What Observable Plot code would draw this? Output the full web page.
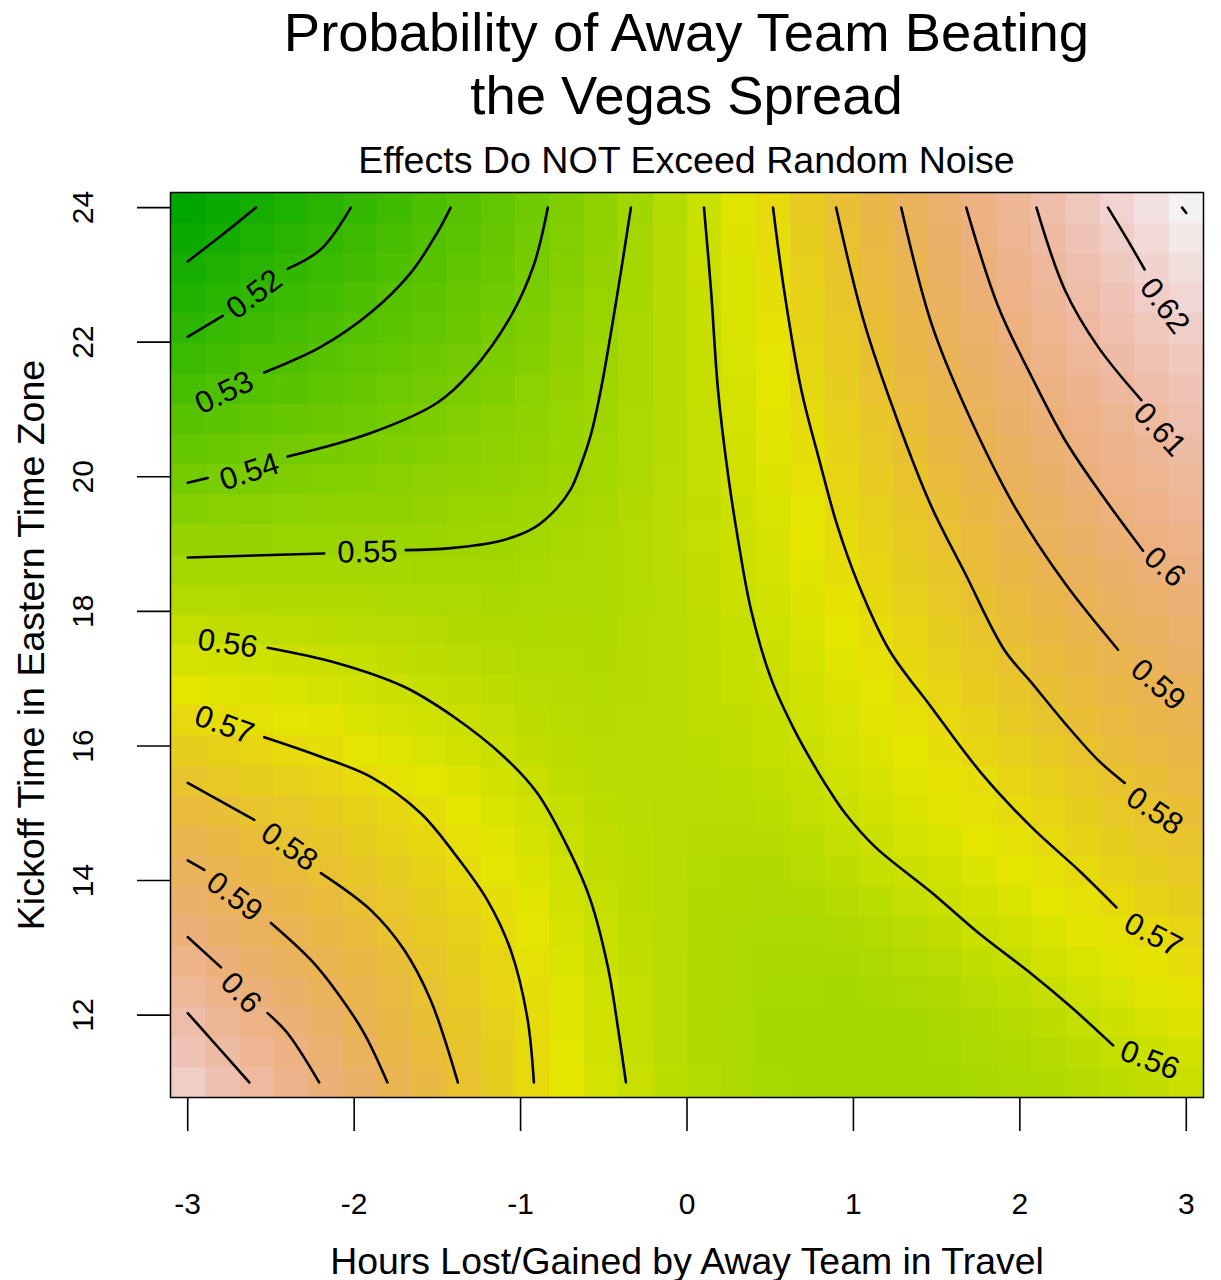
<!DOCTYPE html>
<html>
<head>
<meta charset="utf-8">
<script src="https://cdn.jsdelivr.net/npm/d3@7"></script>
<script src="https://cdn.jsdelivr.net/npm/@observablehq/plot@0.6"></script>
<style>
  body { margin: 0; background: #fff; font-family: "Liberation Sans", Arial, sans-serif; }
  #wrap { position: relative; width: 1221px; height: 1280px; overflow: hidden; }
  .t { position: absolute; left: 170px; width: 1033px; text-align: center; color: #000; white-space: nowrap; line-height: 1; }
  #wrap svg { position: absolute; left: 0; top: 0; }
</style>
</head>
<body>
<div id="wrap">
  <div class="t" style="top:6px;font-size:54.4px">Probability of Away Team Beating</div>
  <div class="t" style="top:69px;font-size:54.4px">the Vegas Spread</div>
  <div class="t" style="top:142.2px;font-size:37.6px">Effects Do NOT Exceed Random Noise</div>
</div>
<script>
// ---------- grid of read values (x = hours lost/gained, y = kickoff hour) ----------
const xs = [-3, -2.5, -2, -1.5, -1, -0.5, 0, 0.5, 1, 1.5, 2, 2.5, 3];
const ys = [24, 23, 22, 21, 20, 19, 18, 17, 16, 15, 14, 13, 12, 11];

const p24 = [0.5030, 0.5116, 0.5203, 0.5287, 0.5372, 0.5467, 0.5577, 0.5696, 0.5827, 0.5954, 0.6076, 0.6193, 0.6300];
const p23 = [0.5118, 0.5192, 0.5258, 0.5323, 0.5391, 0.5481, 0.5574, 0.5684, 0.5801, 0.5926, 0.6044, 0.6149, 0.6241];
const p22 = [0.5207, 0.5262, 0.5316, 0.5365, 0.5421, 0.5496, 0.5574, 0.5671, 0.5778, 0.5897, 0.6006, 0.6108, 0.6184];
const p21 = [0.5300, 0.5335, 0.5371, 0.5409, 0.5457, 0.5507, 0.5573, 0.5659, 0.5755, 0.5859, 0.5965, 0.6054, 0.6132];
const p20 = [0.5392, 0.5416, 0.5439, 0.5462, 0.5485, 0.5518, 0.5573, 0.5645, 0.5732, 0.5821, 0.5922, 0.6011, 0.6080];
const p19 = [0.5482, 0.5487, 0.5493, 0.5498, 0.5512, 0.5540, 0.5577, 0.5629, 0.5705, 0.5787, 0.5878, 0.5965, 0.6030];
const p18 = [0.5567, 0.5560, 0.5553, 0.5542, 0.5533, 0.5539, 0.5573, 0.5615, 0.5681, 0.5755, 0.5834, 0.5912, 0.5977];
const p17 = [0.5648, 0.5627, 0.5607, 0.5583, 0.5560, 0.5551, 0.5572, 0.5600, 0.5658, 0.5720, 0.5793, 0.5858, 0.5919];
const p16 = [0.5739, 0.5707, 0.5668, 0.5626, 0.5588, 0.5563, 0.5570, 0.5591, 0.5632, 0.5684, 0.5747, 0.5812, 0.5865];
const p15 = [0.5839, 0.5784, 0.5737, 0.5687, 0.5622, 0.5575, 0.5560, 0.5570, 0.5607, 0.5653, 0.5700, 0.5757, 0.5813];
const p14 = [0.5926, 0.5853, 0.5784, 0.5726, 0.5657, 0.5585, 0.5555, 0.5545, 0.5575, 0.5613, 0.5661, 0.5709, 0.5761];
const p13 = [0.6014, 0.5927, 0.5846, 0.5767, 0.5688, 0.5600, 0.5555, 0.5530, 0.5535, 0.5570, 0.5609, 0.5659, 0.5708];
const p12 = [0.6103, 0.6002, 0.5898, 0.5798, 0.5707, 0.5614, 0.5555, 0.5520, 0.5510, 0.5530, 0.5565, 0.5608, 0.5654];
const p11 = [0.6187, 0.6068, 0.5949, 0.5829, 0.5718, 0.5624, 0.5560, 0.5525, 0.5510, 0.5515, 0.5535, 0.5565, 0.5598];

// ---------- contour lines (segments split at labels) ----------
const c051 = [[[-3, 23.2], [-2.80, 23.58], [-2.59, 24]]];
const c052 = [[[-3, 22.08], [-2.79, 22.39]], [[-2.40, 23.09], [-2.20, 23.38], [-2.02, 24]]];
const c053 = [[[-2.54, 21.55], [-2.20, 21.93], [-1.90, 22.44], [-1.66, 23.03], [-1.50, 23.63], [-1.42, 24]]];
const c054 = [[[-3, 19.91], [-2.88, 19.98]], [[-2.40, 20.30], [-1.90, 20.65], [-1.50, 21.10], [-1.30, 21.55], [-1.06, 22.38], [-0.92, 23.15], [-0.836, 24]]];
const c055 = [[[-3, 18.80], [-2.18, 18.86]], [[-1.69, 18.91], [-1.42, 18.94], [-1.118, 19.05], [-0.92, 19.24], [-0.787, 19.52], [-0.697, 19.82], [-0.637, 20.18], [-0.577, 20.63], [-0.517, 21.3], [-0.415, 22.77], [-0.337, 24]]];
const c056a = [[[-2.52, 17.46], [-2.10, 17.23], [-1.70, 16.88], [-1.40, 16.43], [-1.10, 15.84], [-0.90, 15.30], [-0.70, 14.41], [-0.58, 13.71], [-0.475, 12.71], [-0.41, 11.73], [-0.367, 11.0]]];
const c057a = [[[-2.54, 16.13], [-2.20, 15.84], [-1.90, 15.54], [-1.60, 15.0], [-1.40, 14.41], [-1.20, 13.71], [-1.06, 12.97], [-0.96, 11.97], [-0.92, 11.0]]];
const c058a = [[[-3, 15.45], [-2.60, 14.90]], [[-2.20, 14.11], [-1.90, 13.56], [-1.70, 12.97], [-1.54, 12.22], [-1.377, 11.0]]];
const c059a = [[[-3, 14.30], [-2.90, 14.16]], [[-2.50, 13.37], [-2.26, 12.82], [-2.10, 12.33], [-1.94, 11.73], [-1.80, 11.0]]];
const c060a = [[[-3, 13.16], [-2.80, 12.71]], [[-2.52, 12.03], [-2.40, 11.73], [-2.21, 11.0]]];
const c061a = [[[-3, 12.03], [-2.82, 11.53], [-2.63, 11.0]]];
const c056b = [[[0.102, 24], [0.144, 22.78], [0.186, 21.3], [0.245, 20.06], [0.307, 19.06], [0.385, 18.02], [0.505, 17.0], [0.645, 16.24], [0.79, 15.6], [0.866, 15.3], [0.95, 15.0], [1.13, 14.5], [1.466, 13.83], [1.767, 13.19], [2.067, 12.62], [2.308, 12.12], [2.56, 11.55]]];
const c057b = [[[0.517, 24], [0.583, 22.78], [0.686, 21.3], [0.80, 20.2], [0.90, 19.3], [1.03, 18.4], [1.214, 17.43], [1.467, 16.58], [1.767, 15.6], [2.067, 14.8], [2.368, 14.12], [2.58, 13.60]]];
const c058b = [[[0.896, 24], [1.065, 22.29], [1.27, 20.8], [1.47, 19.55], [1.67, 18.57], [1.906, 17.43], [2.07, 16.94], [2.27, 16.34], [2.47, 15.79], [2.63, 15.45]]];
const c059b = [[[1.287, 24], [1.467, 22.29], [1.67, 21.04], [1.97, 19.55], [2.27, 18.42], [2.59, 17.43]]];
const c060b = [[[1.678, 24], [1.87, 22.53], [2.07, 21.49], [2.27, 20.55], [2.47, 19.81], [2.74, 18.90]]];
const c061b = [[[2.10, 24], [2.27, 22.78], [2.47, 21.93], [2.73, 21.14]]];
const c062b = [[[2.53, 24], [2.64, 23.55], [2.75, 23.08]]];
const c063b = [[[2.975, 24], [3.0, 23.92]]];

const contourLabels = [
  {text: "0.52", x: -2.60, y: 22.71, angle: -37},
  {text: "0.53", x: -2.78, y: 21.25, angle: -26},
  {text: "0.54", x: -2.63, y: 20.07, angle: -18},
  {text: "0.55", x: -1.92, y: 18.88, angle: -1},
  {text: "0.56", x: -2.76, y: 17.52, angle: 8},
  {text: "0.57", x: -2.78, y: 16.31, angle: 20},
  {text: "0.58", x: -2.39, y: 14.50, angle: 35},
  {text: "0.59", x: -2.72, y: 13.76, angle: 37},
  {text: "0.6",  x: -2.68, y: 12.33, angle: 46},
  {text: "0.56", x: 2.78, y: 11.33, angle: 21},
  {text: "0.57", x: 2.80, y: 13.19, angle: 28},
  {text: "0.58", x: 2.81, y: 15.03, angle: 34},
  {text: "0.59", x: 2.83, y: 16.91, angle: 41},
  {text: "0.6",  x: 2.87, y: 18.66, angle: 42},
  {text: "0.61", x: 2.84, y: 20.70, angle: 47},
  {text: "0.62", x: 2.87, y: 22.54, angle: 53}
];

const xTicks = [-3, -2, -1, 0, 1, 2, 3];
const yTicks = [12, 14, 16, 18, 20, 22, 24];
const xTitle = "Hours Lost/Gained by Away Team in Travel";
const yTitle = "Kickoff Time in Eastern Time Zone";

// ---------- build tables ----------
const rows = [p24, p23, p22, p21, p20, p19, p18, p17, p16, p15, p14, p13, p12, p11];
const grid = ys.flatMap((y, j) => xs.map((x, i) => ({x, y, v: rows[j][i]})));

const allContours = [c051, c052, c053, c054, c055, c056a, c057a, c058a, c059a, c060a, c061a,
                     c056b, c057b, c058b, c059b, c060b, c061b, c062b, c063b];
const contourPts = allContours.flatMap((segs, ci) =>
  segs.flatMap((s, si) => s.map(([x, y]) => ({x, y, seg: ci + "-" + si}))));

const CELLS = 30; // raster resolution of the image
const hx = (d3.max(xs) - d3.min(xs)) / (CELLS - 1) / 2;
const hy = (d3.max(ys) - d3.min(ys)) / (CELLS - 1) / 2;
const xDomain = [d3.min(xs) - hx, d3.max(xs) + hx];
const yDomain = [d3.min(ys) - hy, d3.max(ys) + hy];
// raster extent pulled in a hair so edge pixel centres fall inside the data hull
const shrink = 0.985;
const rx = [d3.min(xs) - hx * shrink, d3.max(xs) + hx * shrink];
const ry = [d3.min(ys) - hy * shrink, d3.max(ys) + hy * shrink];

// R terrain.colors palette
function hsv(h, s, v) {
  const i = Math.floor(h * 6), f = h * 6 - i;
  const p = v * (1 - s), q = v * (1 - f * s), t = v * (1 - (1 - f) * s);
  let r, g, b;
  switch (((i % 6) + 6) % 6) {
    case 0: r = v; g = t; b = p; break;
    case 1: r = q; g = v; b = p; break;
    case 2: r = p; g = v; b = t; break;
    case 3: r = p; g = q; b = v; break;
    case 4: r = t; g = p; b = v; break;
    default: r = v; g = p; b = q;
  }
  return d3.rgb(r * 255, g * 255, b * 255).formatHex();
}
function terrain(t) {
  if (t <= 0.5) { const u = t / 0.5; return hsv(4 / 12 - u * 2 / 12, 1, 0.65 + 0.25 * u); }
  const u = (t - 0.5) / 0.5;
  return hsv(2 / 12 - u * 2 / 12, 1 - u, 0.9 + 0.05 * u);
}
const [vmin, vmax] = d3.extent(grid, d => d.v);
const stops = d3.range(65).map(i => i / 64);

const chart = Plot.plot({
  width: 1221,
  height: 1280,
  marginTop: 192,
  marginBottom: 183,
  marginLeft: 170,
  marginRight: 18,
  style: {fontFamily: '"Liberation Sans", Arial, sans-serif', background: "transparent", color: "#000", overflow: "visible"},
  x: {domain: xDomain},
  y: {domain: yDomain},
  color: {type: "linear", domain: stops.map(t => vmin + t * (vmax - vmin)), range: stops.map(terrain), interpolate: "rgb"},
  marks: [
    Plot.raster(grid, {
      x: "x", y: "y", fill: "v",
      interpolate: "barycentric",
      width: CELLS, height: CELLS,
      x1: rx[0], x2: rx[1], y1: ry[0], y2: ry[1],
      imageRendering: "pixelated"
    }),
    Plot.line(contourPts, {x: "x", y: "y", z: "seg", curve: "catmull-rom", stroke: "#000", strokeWidth: 2.6}),
    Plot.text(contourLabels, {x: "x", y: "y", text: "text", rotate: "angle", fontSize: 31, fill: "#000"}),
    Plot.frame({stroke: "#000", strokeWidth: 1.5}),
    Plot.axisX({ticks: xTicks, tickSize: 34, tickPadding: 61, fontSize: 30, tickFormat: d => String(d), label: null, strokeWidth: 1.6}),
    Plot.axisY({ticks: yTicks, tickSize: 33, tickFormat: () => "", label: null, strokeWidth: 1.6}),
    Plot.text(yTicks, {y: d => d, text: d => String(d), frameAnchor: "left", dx: -78, rotate: -90, textAnchor: "middle", lineAnchor: "bottom", fontSize: 30, fill: "#000"}),
    Plot.text([xTitle], {frameAnchor: "bottom", dy: 176, textAnchor: "middle", lineAnchor: "bottom", fontSize: 37.4, fill: "#000"}),
    Plot.text([yTitle], {frameAnchor: "left", dx: -127, rotate: -90, textAnchor: "middle", lineAnchor: "bottom", fontSize: 37.5, fill: "#000"})
  ]
});
document.getElementById("wrap").appendChild(chart);
</script>
</body>
</html>
